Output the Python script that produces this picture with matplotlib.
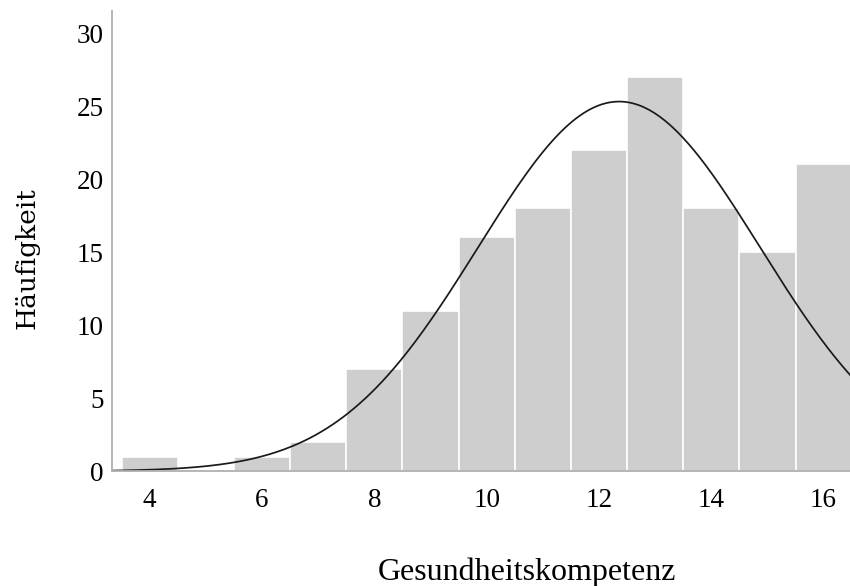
import numpy as np
import matplotlib.pyplot as plt

# Häufigkeiten je Punktwert
scores = [4, 5, 6, 7, 8, 9, 10, 11, 12, 13, 14, 15, 16]
counts = [1, 0, 1, 2, 7, 11, 16, 18, 22, 27, 18, 15, 21]
xticks = [4, 6, 8, 10, 12, 14, 16]
yticks = [0, 5, 10, 15, 20, 25, 30]

scores_arr = np.array(scores, dtype=float)
counts_arr = np.array(counts, dtype=float)
n = counts_arr.sum()
mean = (scores_arr * counts_arr).sum() / n
sd = np.sqrt((counts_arr * (scores_arr - mean) ** 2).sum() / (n - 1))

fig = plt.figure(figsize=(8.5, 5.86), dpi=100)
ax = fig.add_axes([0.1318, 0.196, 0.8682, 0.785])

ax.bar(scores, counts, width=1.0, color='#cecece', edgecolor='white', linewidth=1.2)

xlo, xhi = 3.33, 16.47
xs = np.linspace(xlo, xhi, 400)
curve = n * np.exp(-0.5 * ((xs - mean) / sd) ** 2) / (sd * np.sqrt(2 * np.pi))
ax.plot(xs, curve, color='#1a1a1a', linewidth=1.25)

ax.set_xlim(xlo, xhi)
ax.set_ylim(0, 31.5)
ax.set_xticks(xticks)
ax.set_yticks(yticks)
ax.tick_params(length=0, labelsize=19.5)
ax.tick_params(axis='x', pad=12)
ax.tick_params(axis='y', pad=6)
for lab in ax.get_xticklabels() + ax.get_yticklabels():
    lab.set_family('Liberation Serif')

for side in ['top', 'right']:
    ax.spines[side].set_visible(False)
for side in ['left', 'bottom']:
    ax.spines[side].set_color('#b0b0b0')
    ax.spines[side].set_linewidth(1.3)

fig.text(0.6195, 0.0105, 'Gesundheitskompetenz', ha='center', va='baseline',
         family='Liberation Serif', fontsize=23)
fig.text(0.032, 0.56, 'Häufigkeit', ha='center', va='center', rotation=90,
         family='DejaVu Serif', fontsize=19)

fig.savefig('out.png', dpi=100)
